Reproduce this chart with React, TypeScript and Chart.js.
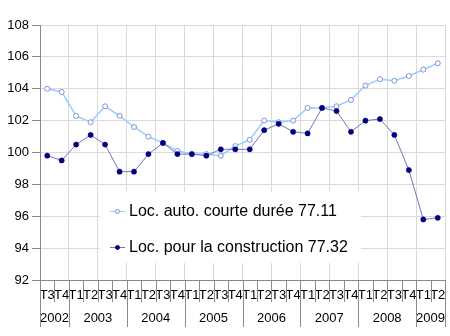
import React, { useEffect, useRef } from 'react';
import { Chart, registerables } from 'chart.js';

Chart.register(...registerables);

const quarters = [
  'T3', 'T4',
  'T1', 'T2', 'T3', 'T4',
  'T1', 'T2', 'T3', 'T4',
  'T1', 'T2', 'T3', 'T4',
  'T1', 'T2', 'T3', 'T4',
  'T1', 'T2', 'T3', 'T4',
  'T1', 'T2', 'T3', 'T4',
  'T1', 'T2',
];
const years = ['2002', '2003', '2004', '2005', '2006', '2007', '2008', '2009'];
const quartersPerYear = [2, 4, 4, 4, 4, 4, 4, 2];

const autoCourteDuree = [
  104.0, 103.8, 102.3, 101.9, 102.9, 102.3, 101.6, 101.0, 100.6, 100.1,
  99.9, 99.9, 99.8, 100.4, 100.8, 102.0, 101.9, 102.0, 102.8, 102.8,
  102.9, 103.3, 104.2, 104.6, 104.5, 104.8, 105.2, 105.6,
];
const construction = [
  99.8, 99.5, 100.5, 101.1, 100.5, 98.8, 98.8, 99.9, 100.6, 99.9,
  99.9, 99.8, 100.2, 100.2, 100.2, 101.4, 101.8, 101.3, 101.2, 102.8,
  102.6, 101.3, 102.0, 102.1, 101.1, 98.9, 95.8, 95.9,
];
const legendLabels = ['Loc. auto. courte durée 77.11', 'Loc. pour la construction 77.32'];
const yMin = 92;
const yMax = 108;
const yStep = 2;

const FONT = 'Arial, "Liberation Sans", sans-serif';
const LIGHT_LINE = '#99ccff';
const LIGHT_POINT = '#8090dd';
const DARK_LINE = '#7474bb';
const DARK_POINT = '#000080';
const GRID = '#dadada';
const AXIS = '#8a8a8a';

const xLabelsPlugin = {
  id: 'xLabels',
  afterDraw(chart: any) {
    const xs = chart.scales.x;
    const ctx = chart.ctx;
    ctx.save();
    ctx.fillStyle = '#000';
    ctx.textAlign = 'center';
    ctx.textBaseline = 'middle';
    ctx.font = `13px ${FONT}`;
    quarters.forEach((q, i) => {
      ctx.fillText(q, xs.getPixelForValue(i), xs.top + 15);
    });
    ctx.strokeStyle = AXIS;
    ctx.lineWidth = 1;
    for (let k = 0; k <= quarters.length; k++) {
      const px = Math.round(xs.getPixelForValue(k - 0.5)) + 0.5;
      ctx.beginPath();
      ctx.moveTo(px, xs.top);
      ctx.lineTo(px, xs.top + 22);
      ctx.stroke();
    }
    let start = 0;
    years.forEach((y, j) => {
      const end = start + quartersPerYear[j];
      const a = xs.getPixelForValue(start - 0.5);
      const b = xs.getPixelForValue(end - 0.5);
      ctx.fillText(y, (a + b) / 2, xs.top + 38);
      [a, b].forEach((p) => {
        const px = Math.round(p) + 0.5;
        ctx.beginPath();
        ctx.moveTo(px, xs.top);
        ctx.lineTo(px, xs.top + 47);
        ctx.stroke();
      });
      start = end;
    });
    ctx.restore();
  },
};

const overlayLegendPlugin = {
  id: 'overlayLegend',
  afterDatasetsDraw(chart: any) {
    const ctx = chart.ctx;
    const box = { left: 100, top: 192, right: 361, bottom: 263 };
    ctx.save();
    ctx.fillStyle = '#ffffff';
    ctx.fillRect(box.left, box.top, box.right - box.left, box.bottom - box.top);
    const rows = [211, 247];
    chart.data.datasets.forEach((ds: any, i: number) => {
      const y = rows[i] + 0.5;
      ctx.strokeStyle = ds.borderColor;
      ctx.lineWidth = 1;
      ctx.beginPath();
      ctx.moveTo(110, y);
      ctx.lineTo(125, y);
      ctx.stroke();
      ctx.beginPath();
      ctx.arc(117.5, y, 2, 0, Math.PI * 2);
      ctx.fillStyle = ds.pointBackgroundColor;
      ctx.fill();
      ctx.strokeStyle = ds.pointBorderColor;
      ctx.stroke();
      ctx.fillStyle = '#000';
      ctx.font = `16px ${FONT}`;
      ctx.textAlign = 'left';
      ctx.textBaseline = 'middle';
      ctx.fillText(ds.label, 129, y + 0.5);
    });
    ctx.restore();
  },
};

export default function App() {
  const ref = useRef<HTMLCanvasElement | null>(null);

  useEffect(() => {
    if (!ref.current) return;
    const chart = new Chart(ref.current, {
      type: 'line',
      data: {
        labels: quarters.map((q, i) => `${q}-${i}`),
        datasets: [
          {
            label: legendLabels[0],
            data: autoCourteDuree,
            borderColor: LIGHT_LINE,
            borderWidth: 1.5,
            pointRadius: 2.5,
            pointBackgroundColor: '#ffffff',
            pointBorderColor: LIGHT_POINT,
            pointBorderWidth: 1,
            tension: 0,
            order: 1,
          },
          {
            label: legendLabels[1],
            data: construction,
            borderColor: DARK_LINE,
            borderWidth: 1,
            pointRadius: 2.6,
            pointBackgroundColor: DARK_POINT,
            pointBorderColor: DARK_POINT,
            pointBorderWidth: 0.5,
            tension: 0,
            order: 0,
          },
        ],
      },
      options: {
        responsive: false,
        animation: false,
        layout: { padding: { top: 25, right: 0, left: 0, bottom: 0 } },
        plugins: {
          legend: { display: false },
          tooltip: { enabled: false },
        },
        scales: {
          x: {
            type: 'category',
            offset: true,
            grid: {
              offset: true,
              drawTicks: false,
              color: (c: any) =>
                c.index === undefined || c.index % 2 === 0 ? GRID : 'rgba(0,0,0,0)',
            },
            border: { display: true, color: AXIS },
            ticks: { display: false },
            afterFit: (s: any) => {
              s.height = 56;
            },
          },
          y: {
            min: yMin,
            max: yMax,
            grid: { color: GRID, tickColor: AXIS, tickLength: 8 },
            border: { display: true, color: AXIS },
            ticks: {
              stepSize: yStep,
              color: '#000',
              padding: 3,
              font: { family: FONT, size: 13 },
            },
            afterFit: (s: any) => {
              s.width = 40;
            },
          },
        },
      },
      plugins: [overlayLegendPlugin, xLabelsPlugin],
    });
    return () => chart.destroy();
  }, []);

  return (
    <div style={{ position: 'fixed', left: 0, top: 0, width: 450, height: 336, background: '#fff' }}>
      <canvas ref={ref} width={450} height={336} />
    </div>
  );
}
